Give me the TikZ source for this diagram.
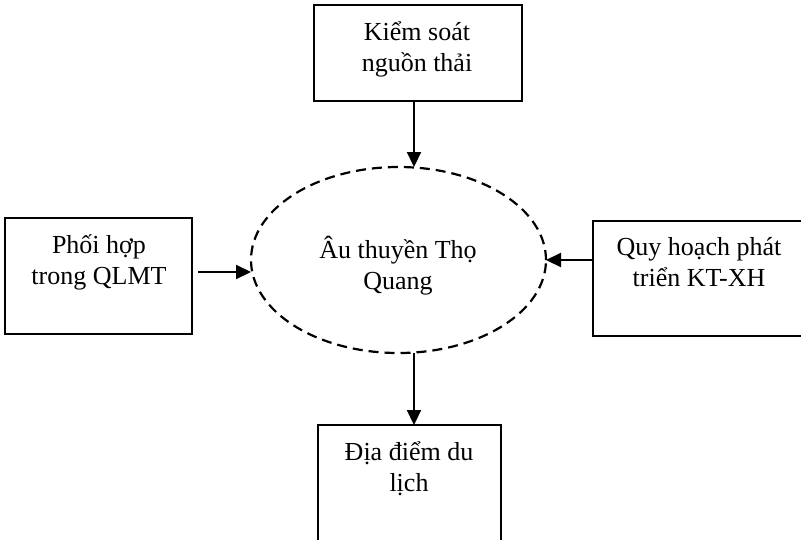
\documentclass[tikz,border=0pt]{standalone}
\usepackage{fontspec}
\setmainfont{Liberation Serif}
\usetikzlibrary{shapes.geometric,arrows.meta,calc}
\newcommand{\twoline}[2]{\vtop{\baselineskip=31pt\halign{\hfil##\hfil\cr #1\cr #2\cr}}}
\tikzset{
  box/.style={draw=black, line width=2.2pt, rectangle, inner sep=0pt, outer sep=0pt},
  lbl/.style={inner sep=0pt, anchor=base, font=\fontsize{26}{31}\selectfont},
  ell/.style={draw=black, line width=2.2pt, ellipse, dash pattern=on 10pt off 6pt, inner sep=0pt, outer sep=0pt},
  arr/.style={draw=black, line width=2.2pt, -{Triangle[length=15pt,width=14pt]}}
}
\begin{document}
\begin{tikzpicture}[x=1pt,y=-1pt]
\useasboundingbox (0,0) rectangle (801,539);
\fill[white] (0,0) rectangle (801,539);
\clip (0,0) rectangle (801,539);
% boxes
\node[box, minimum width=208pt, minimum height=96pt] (top) at (418,53) {};
\node[box, minimum width=187pt, minimum height=116pt] (left) at (98.5,276) {};
\node[box, minimum width=222pt, minimum height=115pt] (right) at (704,278.5) {};
\node[box, minimum width=183pt, minimum height=135pt] (bot) at (409.5,492.5) {};
\node[ell, minimum width=295pt, minimum height=186pt] (ell) at (398.5,260) {};
% texts
\node[lbl] (ttop) at (417,40) {\twoline{Kiểm soát}{nguồn thải}};
\node[lbl] (tleft) at (99,253) {\twoline{Phối hợp}{trong QLMT}};
\node[lbl] (tright) at (699,255) {\twoline{Quy hoạch phát}{triển KT-XH}};
\node[lbl] (tbot) at (409,460) {\twoline{Địa điểm du}{lịch}};
\node[lbl] (tell) at (398,258) {\twoline{Âu thuyền Thọ}{Quang}};
% connectors
\coordinate (la) at (198,272);
\draw[arr] ([xshift=-4pt]top.south) -- ([xshift=-4pt]top.south |- ell.north);
\draw[arr] (la) -- (la -| ell.west);
\draw[arr] (right.west |- ell.east) -- (ell.east);
\draw[arr] ([xshift=4.5pt]bot.north |- ell.south) -- ([xshift=4.5pt]bot.north);
\end{tikzpicture}
\end{document}
